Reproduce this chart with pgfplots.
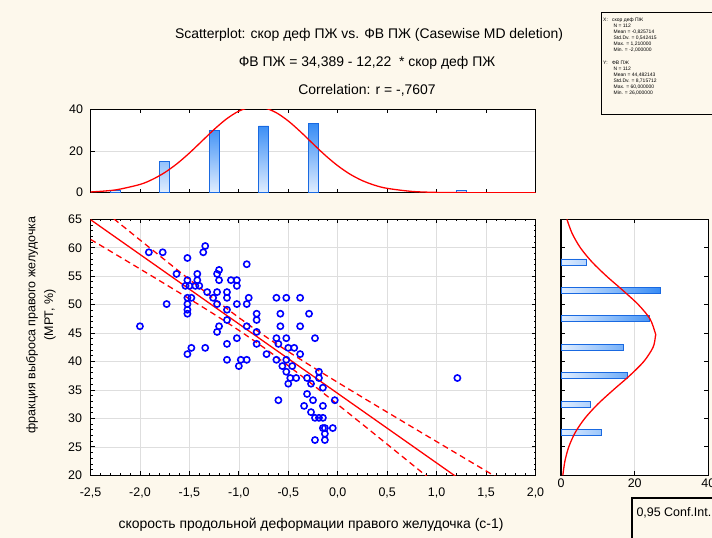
\documentclass[border=0pt]{standalone}
\usepackage{fontspec}
\setmainfont{Liberation Sans}
\usepackage{pgfplots}
\pgfplotsset{compat=1.18}
\definecolor{cream}{RGB}{253,248,236}
\definecolor{barblue}{RGB}{25,105,225}
\definecolor{barmid}{RGB}{55,140,245}
\definecolor{barlight}{RGB}{225,238,255}
\definecolor{gridgray}{RGB}{222,222,222}

\pgfplotsset{
  statax/.style={
    scale only axis, anchor=south west,
    axis line style={line width=1.4pt},
    tick style={black, line width=0.8pt},
    tick align=inside,
    major tick length=4bp, minor tick length=2bp,
    tick label style={font=\fontsize{12.5}{13}\selectfont},
    /pgf/number format/assume math mode=true,
    axis background/.style={fill=white},
    grid style={gridgray, line width=0.6pt},
  }
}

\begin{document}
\begin{tikzpicture}[x=1bp,y=1bp]
\path[use as bounding box, fill=cream] (0,0) rectangle (712,538);
\clip (0,0) rectangle (712,538);

% titles
\node[font=\fontsize{14}{16}\selectfont] at (369,503) {Scatterplot: скор деф ПЖ vs. ФВ ПЖ (Casewise MD deletion)};
\node[font=\fontsize{14}{16}\selectfont] at (367,475) {ФВ ПЖ = 34,389 - 12,22 \ * скор деф ПЖ};
\node[font=\fontsize{14}{16}\selectfont] at (367,448) {Correlation: r = -,7607};

% main scatter
\begin{axis}[statax, at={(90.5bp,62.7bp)}, width=445bp, height=256bp,
  xmin=-2.5, xmax=2.0, ymin=20, ymax=65,
  xtick={-2.5,-2,...,2}, ytick={20,25,...,65},
  minor x tick num=4, minor y tick num=4,
  grid=major,
  xticklabel style={yshift=-9bp, /pgf/number format/.cd, fixed, fixed zerofill, precision=1, use comma},
  yticklabel style={xshift=-5bp, /pgf/number format/.cd, fixed, precision=0},
]
\addplot[only marks, mark=o, blue, mark size=3.1bp, mark options={line width=1.6pt}] coordinates {
(-1.91,59.2) (-1.77,59.2) (-1.52,58.2) (-1.34,60.3) (-1.36,59.2) (-0.92,57.1)
(-1.63,55.4) (-1.42,55.4) (-1.20,56.1) (-1.22,55.4) (-1.52,54.3) (-1.42,54.3)
(-1.20,54.3) (-1.08,54.3) (-1.02,54.3) (-1.02,53.3) (-1.54,53.3) (-1.50,53.3)
(-1.44,53.3) (-1.40,53.3) (-1.32,52.2) (-1.22,52.2) (-1.12,52.2) (-1.12,51.2)
(-1.52,51.2) (-1.48,51.2) (-1.26,51.2) (-0.90,51.2) (-1.73,50.1) (-1.52,50.1)
(-1.22,50.1) (-1.02,50.1) (-0.92,50.1) (-1.52,49.1) (-1.12,49.1) (-1.52,48.4)
(-0.82,48.4) (-1.12,47.3) (-0.82,47.3) (-1.20,46.2) (-1.22,45.2) (-0.92,46.2)
(-0.82,45.2) (-1.02,44.1) (-0.82,43.1) (-1.12,43.1) (-1.48,42.4) (-1.34,42.4)
(-1.52,41.3) (-1.12,40.3) (-0.98,40.3) (-0.92,40.3) (-1.00,39.2) (-0.62,51.2)
(-0.52,51.2) (-0.38,51.2) (-0.58,48.4) (-0.29,48.4) (-0.58,46.2) (-0.38,46.2)
(-0.62,44.1) (-0.52,44.1) (-0.23,44.1) (-0.60,43.1) (-0.50,42.4) (-0.44,42.4)
(-0.38,41.3) (-0.72,41.3) (-0.62,40.3) (-0.52,40.3) (-0.56,39.2) (-0.46,39.2)
(-0.52,38.2) (-0.48,37.1) (-0.42,37.1) (-0.50,36.1) (-0.31,37.1) (-0.19,38.2)
(-0.19,37.1) (-0.27,36.1) (-0.15,35.4) (-0.31,34.3) (-0.60,33.2) (-0.25,33.2)
(-0.03,33.2) (-0.34,32.2) (-0.15,32.2) (-0.27,31.1) (-0.23,30.1) (-0.19,30.1)
(-0.15,30.1) (-0.15,28.3) (-0.13,28.3) (-0.05,28.3) (-0.13,27.3) (-0.23,26.2)
(-0.13,26.2) (-2.00,46.2) (1.21,37.1)
};
% regression line
\addplot[red, line width=1.3pt] coordinates {(-2.5,64.939) (1.25,19.114)};
% 0.95 confidence bands
\addplot[red, line width=1.3pt, dash pattern=on 6bp off 4bp, smooth] coordinates {
(-2.5,68.41) (-2.25,64.886) (-2.0,61.377) (-1.75,57.884) (-1.5,54.422) (-1.25,51.018)
(-1.0,47.728) (-0.75,44.629) (-0.5,41.742) (-0.25,39.0) (0,36.334) (0.25,33.706)
(0.5,31.10) (0.75,28.507) (1.0,25.922) (1.25,23.341) (1.5,20.765) (1.75,18.19)};
\addplot[red, line width=1.3pt, dash pattern=on 6bp off 4bp, smooth] coordinates {
(-2.5,61.47) (-2.25,58.882) (-2.0,56.281) (-1.75,53.664) (-1.5,51.016) (-1.25,48.31)
(-1.0,45.49) (-0.75,42.479) (-0.5,39.256) (-0.25,35.888) (0,32.444) (0.25,28.962)
(0.5,25.458) (0.75,21.941) (1.0,18.416)};
\end{axis}

% top histogram
\begin{axis}[statax, at={(90.5bp,345.3bp)}, width=445bp, height=83.4bp,
  xmin=-2.5, xmax=2.0, ymin=0, ymax=40,
  xtick={-2.5,-2,...,2}, xticklabels={}, ytick={0,20,40},
  ymajorgrids, xtick pos=both, ytick pos=left,
  yticklabel style={xshift=-4bp},
]
\addplot[ybar, bar width=10bp, draw=barblue, line width=0.8pt, top color=barmid, bottom color=barlight] coordinates {
(-2.25,1) (-1.75,15) (-1.25,30) (-0.75,32) (-0.25,33) (1.25,1)};
\addplot[red, line width=1.3pt, smooth] coordinates {
(-2.5,0.35) (-2.25,1.31) (-2.0,3.95) (-1.875,6.34) (-1.75,9.64) (-1.625,13.91) (-1.5,19.02)
(-1.375,24.66) (-1.25,30.33) (-1.125,35.37) (-1.0,39.12) (-0.875,41.02) (-0.75,40.79)
(-0.625,38.46) (-0.5,34.39) (-0.375,29.16) (-0.25,23.45) (-0.125,17.88) (0,12.93)
(0.125,8.86) (0.25,5.76) (0.375,3.55) (0.5,2.08) (0.75,0.61) (1.0,0.14) (1.25,0.03)
(1.5,0.0) (2.0,0.0)};
\end{axis}

% right histogram
\begin{axis}[statax, at={(561bp,62.7bp)}, width=147.4bp, height=256bp,
  xmin=0, xmax=40, ymin=20, ymax=65,
  xtick={0,20,40}, ytick={20,25,...,65}, yticklabels={},
  xmajorgrids, ytick pos=both, xtick pos=both,
]
\addplot[xbar, bar width=6bp, draw=barblue, line width=0.8pt, left color=barlight, right color=barmid] coordinates {
(7,57.5) (27,52.5) (24,47.5) (17,42.5) (18,37.5) (8,32.5) (11,27.5)};
\addplot[red, line width=1.3pt, smooth] coordinates {
(0.50,20) (1.06,22.5) (2.11,25) (3.84,27.5) (6.45,30) (9.96,32.5) (14.18,35)
(18.60,37.5) (22.46,40) (24.98,42.5) (25.63,44.48) (25.58,45) (24.14,47.5) (20.98,50)
(16.79,52.5) (12.37,55) (8.40,57.5) (5.25,60) (3.03,62.5) (1.60,65)};
\end{axis}

% axis labels
\node[font=\fontsize{14}{16}\selectfont] at (311,13) {скорость продольной деформации правого желудочка (с-1)};
\node[rotate=90, font=\fontsize{12.5}{14}\selectfont] at (32,213) {фракция выброса правого желудочка};
\node[rotate=90, font=\fontsize{12.5}{14}\selectfont] at (50,223) {(МРТ, \%)};

% statistics box
\draw[line width=0.7pt] (601,424) rectangle (730,526);
\begin{scope}[font=\fontsize{5}{6}\selectfont]
\node[anchor=west, inner sep=0] at (603,518) {X:};
\node[anchor=north west, align=left, inner sep=0] at (612,520.5) {скор деф ПЖ\\
\hspace*{1.5bp}N = 112\\ \hspace*{1.5bp}Mean = -0,825714\\ \hspace*{1.5bp}Std.Dv. = 0,542415\\
\hspace*{1.5bp}Max. = 1,210000\\ \hspace*{1.5bp}Min. = -2,000000};
\node[anchor=west, inner sep=0] at (603,475) {Y:};
\node[anchor=north west, align=left, inner sep=0] at (612,477.5) {ФВ ПЖ\\
\hspace*{1.5bp}N = 112\\ \hspace*{1.5bp}Mean = 44,482143\\ \hspace*{1.5bp}Std.Dv. = 8,715712\\
\hspace*{1.5bp}Max. = 60,000000\\ \hspace*{1.5bp}Min. = 26,000000};
\end{scope}

% legend box (cut at the border)
\draw[line width=1.5pt, fill=cream] (632,40) rectangle (760,-20);
\node[anchor=west, font=\fontsize{12.5}{14}\selectfont] at (633,25) {0,95 Conf.Int.};
\end{tikzpicture}
\end{document}
